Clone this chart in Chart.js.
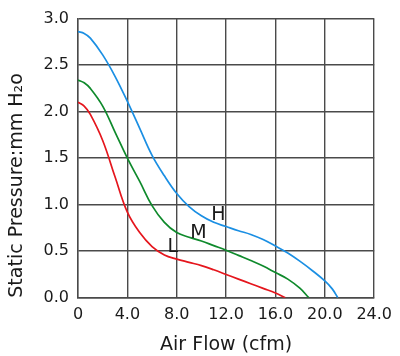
<!DOCTYPE html>
<html>
<head>
<meta charset="utf-8">
<script src="https://cdn.jsdelivr.net/npm/chart.js@4.4.1/dist/chart.umd.min.js"></script>
<style>
html,body{margin:0;padding:0;background:#fff;}
#wrap{width:400px;height:356px;}
</style>
</head>
<body>
<div id="wrap"><canvas id="c" width="400" height="356"></canvas></div>
<script>
// ---- data ----
const xTickLabels = ['0', '4.0', '8.0', '12.0', '16.0', '20.0', '24.0'];
const yTickLabels = ['0.0', '0.5', '1.0', '1.5', '2.0', '2.5', '3.0'];

const seriesNames = ['H', 'M', 'L'];

const highFlow = [0, 0.5, 1, 2, 3, 4, 5, 6, 7, 8, 9, 10, 11, 12, 13, 14, 15, 16, 17, 18, 19, 20, 20.6, 21.05];
const highPressure = [2.86, 2.84, 2.79, 2.61, 2.38, 2.11, 1.82, 1.53, 1.31, 1.12, 0.98, 0.88, 0.81, 0.765, 0.72, 0.68, 0.625, 0.555, 0.48, 0.39, 0.29, 0.18, 0.095, 0];

const midFlow = [0, 0.5, 1, 2, 3, 4, 5, 6, 7, 8, 9, 10, 11, 12, 13, 14, 15, 16, 17, 18, 18.7];
const midPressure = [2.34, 2.31, 2.25, 2.06, 1.78, 1.5, 1.25, 0.99, 0.81, 0.70, 0.65, 0.61, 0.56, 0.51, 0.455, 0.40, 0.34, 0.27, 0.2, 0.1, 0];

const lowFlow = [0, 0.5, 1, 2, 3, 4, 5, 6, 7, 8, 9, 10, 11, 12, 13, 14, 15, 16, 16.8];
const lowPressure = [2.10, 2.06, 1.97, 1.69, 1.30, 0.92, 0.70, 0.55, 0.46, 0.415, 0.38, 0.345, 0.30, 0.25, 0.20, 0.15, 0.10, 0.05, 0];

// where the H / M / L tags sit, in data units
const tagFlow = [11.37, 9.76, 7.68];
const tagPressure = [0.89, 0.70, 0.54];

// ---- chart ----
const FONT = 'DejaVu Sans';
const GRID = '#4a4a4a';
const colors = ['#1b8fe3', '#0f8a2c', '#e5161d'];

function pts(xs, ys) { return xs.map((x, i) => ({x: x, y: ys[i]})); }

const tagPlugin = {
  id: 'curveTags',
  afterDatasetsDraw(chart) {
    const c = chart.ctx, xs = chart.scales.x, ys = chart.scales.y;
    c.save();
    c.font = '19px "' + FONT + '"';
    c.fillStyle = '#1a1a1a';
    c.textAlign = 'center';
    c.textBaseline = 'middle';
    seriesNames.forEach((n, i) => {
      c.fillText(n, xs.getPixelForValue(tagFlow[i]), ys.getPixelForValue(tagPressure[i]));
    });
    c.restore();
  }
};

new Chart(document.getElementById('c'), {
  type: 'line',
  data: {
    datasets: [
      {label: seriesNames[0], data: pts(highFlow, highPressure), borderColor: colors[0]},
      {label: seriesNames[1], data: pts(midFlow, midPressure), borderColor: colors[1]},
      {label: seriesNames[2], data: pts(lowFlow, lowPressure), borderColor: colors[2]}
    ]
  },
  options: {
    responsive: false,
    animation: false,
    layout: {padding: {top: 17, right: 24, left: 0, bottom: 0}},
    elements: {
      point: {radius: 0},
      line: {borderWidth: 1.7, tension: 0.4, fill: false}
    },
    plugins: {legend: {display: false}, tooltip: {enabled: false}},
    scales: {
      x: {
        type: 'linear', min: 0, max: 24,
        afterFit(s) { s.height = 58.3; },
        ticks: {
          stepSize: 4, autoSkip: false, maxRotation: 0,
          padding: 8, color: '#1a1a1a', font: {family: FONT, size: 16},
          callback: (v) => xTickLabels[Math.round(v / 4)]
        },
        grid: {color: GRID, lineWidth: 1.4, drawTicks: false},
        border: {color: GRID, width: 1.4},
        title: {display: true, text: 'Air Flow (cfm)', color: '#1a1a1a',
                font: {family: FONT, size: 19}, padding: {top: 0, bottom: 0}}
      },
      y: {
        type: 'linear', min: 0, max: 3,
        afterFit(s) { s.width = 78; },
        ticks: {
          stepSize: 0.5, autoSkip: false,
          padding: 9, color: '#1a1a1a', font: {family: FONT, size: 16},
          callback: (v) => yTickLabels[Math.round(v / 0.5)]
        },
        grid: {color: GRID, lineWidth: 1.4, drawTicks: false},
        border: {color: GRID, width: 1.4},
        title: {display: true, text: 'Static Pressure:mm H\u2082o', align: 'start', color: '#1a1a1a',
                font: {family: FONT, size: 19}, padding: {top: 6, bottom: 0}}
      }
    }
  },
  plugins: [tagPlugin]
});
</script>
</body>
</html>
